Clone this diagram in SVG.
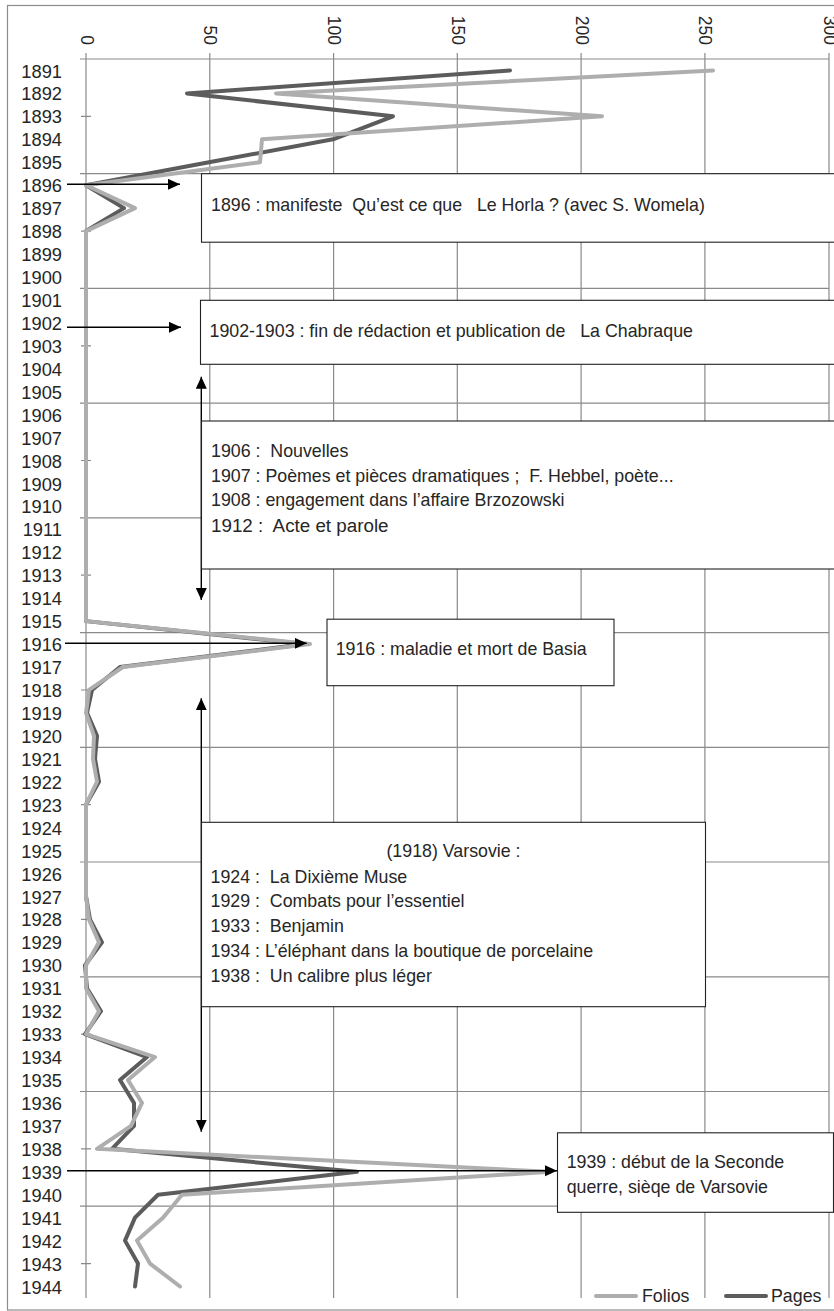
<svg xmlns="http://www.w3.org/2000/svg" width="834" height="1311" viewBox="0 0 834 1311">
<style>
text{font-family:"Liberation Sans",Arial,sans-serif;fill:#262626}
.yr{font-size:18.3px;text-anchor:end}
.ax{font-size:17.5px;text-anchor:end}
.bt{font-size:17.8px;white-space:pre}
.grid{stroke:#8a8a8a;stroke-width:1.2;fill:none}
.box{fill:#fff;stroke:#222;stroke-width:1.1}
.folios{fill:none;stroke:#aeaeae;stroke-width:4;stroke-linejoin:round;stroke-linecap:round}
.pages{fill:none;stroke:#5c5c5c;stroke-width:4;stroke-linejoin:round;stroke-linecap:round}
.arr{stroke:#000;stroke-width:1.4;fill:none}
</style>
<defs>
<marker id="ah" markerUnits="userSpaceOnUse" markerWidth="13" markerHeight="12" refX="12" refY="5.5" orient="auto-start-reverse">
<path d="M0,0 L12,5.5 L0,11 z" fill="#000"/>
</marker>
</defs>
<rect width="834" height="1311" fill="#fff"/>
<rect x="7.5" y="5.5" width="832" height="1304.5" fill="none" stroke="#8c8c8c" stroke-width="1.2"/>

<g id="chart">
<g class="grid">
<path d="M86,59V1298M209.8,53V1298M333.6,53V1298M457.3,53V1298M581.1,53V1298M704.9,53V1298M829,53V1298"/>
<path d="M80,59H829M80,173.7H829M80,288.4H829M80,403.2H829M80,517.9H829M80,632.6H829M80,747.3H829M80,862H829M80,976.8H829M80,1091.5H829M80,1206.2H829"/>
<path d="M86,53V59"/>
<path d="M81,116.4H91M81,231.1H91M81,345.8H91M81,460.5H91M81,575.2H91M81,690H91M81,804.7H91M81,919.4H91M81,1034.1H91M81,1148.8H91M81,1263.6H91"/>
</g>
<g id="value-axis">
<text class="ax" transform="translate(80.5,45) rotate(90)">0</text>
<text class="ax" transform="translate(204.3,45) rotate(90)">50</text>
<text class="ax" transform="translate(328.1,45) rotate(90)">100</text>
<text class="ax" transform="translate(451.8,45) rotate(90)">150</text>
<text class="ax" transform="translate(575.6,45) rotate(90)">200</text>
<text class="ax" transform="translate(699.4,45) rotate(90)">250</text>
<text class="ax" transform="translate(823.5,45) rotate(90)">300</text>
</g>
<g id="year-axis">
<text class="yr" x="62" y="77.5">1891</text>
<text class="yr" x="62" y="100.4">1892</text>
<text class="yr" x="62" y="123.4">1893</text>
<text class="yr" x="62" y="146.3">1894</text>
<text class="yr" x="62" y="169.2">1895</text>
<text class="yr" x="62" y="192.2">1896</text>
<text class="yr" x="62" y="215.1">1897</text>
<text class="yr" x="62" y="238.1">1898</text>
<text class="yr" x="62" y="261">1899</text>
<text class="yr" x="62" y="284">1900</text>
<text class="yr" x="62" y="306.9">1901</text>
<text class="yr" x="62" y="329.9">1902</text>
<text class="yr" x="62" y="352.8">1903</text>
<text class="yr" x="62" y="375.7">1904</text>
<text class="yr" x="62" y="398.7">1905</text>
<text class="yr" x="62" y="421.6">1906</text>
<text class="yr" x="62" y="444.6">1907</text>
<text class="yr" x="62" y="467.5">1908</text>
<text class="yr" x="62" y="490.5">1909</text>
<text class="yr" x="62" y="513.4">1910</text>
<text class="yr" x="62" y="536.4">1911</text>
<text class="yr" x="62" y="559.3">1912</text>
<text class="yr" x="62" y="582.2">1913</text>
<text class="yr" x="62" y="605.2">1914</text>
<text class="yr" x="62" y="628.1">1915</text>
<text class="yr" x="62" y="651.1">1916</text>
<text class="yr" x="62" y="674">1917</text>
<text class="yr" x="62" y="697">1918</text>
<text class="yr" x="62" y="719.9">1919</text>
<text class="yr" x="62" y="742.8">1920</text>
<text class="yr" x="62" y="765.8">1921</text>
<text class="yr" x="62" y="788.7">1922</text>
<text class="yr" x="62" y="811.7">1923</text>
<text class="yr" x="62" y="834.6">1924</text>
<text class="yr" x="62" y="857.6">1925</text>
<text class="yr" x="62" y="880.5">1926</text>
<text class="yr" x="62" y="903.5">1927</text>
<text class="yr" x="62" y="926.4">1928</text>
<text class="yr" x="62" y="949.3">1929</text>
<text class="yr" x="62" y="972.3">1930</text>
<text class="yr" x="62" y="995.2">1931</text>
<text class="yr" x="62" y="1018.2">1932</text>
<text class="yr" x="62" y="1041.1">1933</text>
<text class="yr" x="62" y="1064.1">1934</text>
<text class="yr" x="62" y="1087">1935</text>
<text class="yr" x="62" y="1110">1936</text>
<text class="yr" x="62" y="1132.9">1937</text>
<text class="yr" x="62" y="1155.8">1938</text>
<text class="yr" x="62" y="1178.8">1939</text>
<text class="yr" x="62" y="1201.7">1940</text>
<text class="yr" x="62" y="1224.7">1941</text>
<text class="yr" x="62" y="1247.6">1942</text>
<text class="yr" x="62" y="1270.6">1943</text>
<text class="yr" x="62" y="1293.5">1944</text>
</g>
<g id="series">
<polyline class="pages" points="510,70.47 187,93.42 393,116.36 333,139.3 209,162.25 86,185.19 124,208.14 86,231.08 86,621.13 305,644.07 120,667.02 92,689.96 87,712.9 97,735.85 95,758.79 99,781.74 86,804.68 86,896.46 90,919.4 102,942.34 85,965.29 87,988.23 101,1011.18 85,1034.12 147,1057.06 120,1080.01 134,1102.95 134,1125.9 112,1148.84 357,1171.78 158,1194.73 135,1217.67 125,1240.62 138,1263.56 135,1286.5"/>
<polyline class="folios" points="713,70.47 276,93.42 602,116.36 262,139.3 260,162.25 86,185.19 135,208.14 86,231.08 86,621.13 310,644.07 123,667.02 89,689.96 86,712.9 94,735.85 93,758.79 97,781.74 86,804.68 86,896.46 89,919.4 99,942.34 86,965.29 86,988.23 99,1011.18 86,1034.12 155,1057.06 128,1080.01 142,1102.95 131,1125.9 97,1148.84 550,1171.78 182,1194.73 163,1217.67 137,1240.62 150,1263.56 180,1286.5"/>
</g>
<g id="legend">
<line x1="596" y1="1296" x2="636" y2="1296" stroke="#aeaeae" stroke-width="4" stroke-linecap="round"/>
<text class="bt" x="642" y="1302">Folios</text>
<line x1="726" y1="1296" x2="766" y2="1296" stroke="#5c5c5c" stroke-width="4" stroke-linecap="round"/>
<text class="bt" x="771" y="1302">Pages</text>
</g>
</g>

<g id="connectors">
<line class="arr" x1="67" y1="184.3" x2="180" y2="184.3" marker-end="url(#ah)"/>
<line class="arr" x1="67" y1="327.3" x2="181" y2="327.3" marker-end="url(#ah)"/>
<line class="arr" x1="201.3" y1="376.7" x2="201.3" y2="600" marker-start="url(#ah)" marker-end="url(#ah)"/>
<line class="arr" x1="65" y1="643.3" x2="306.7" y2="643.3" marker-end="url(#ah)"/>
<line class="arr" x1="201.3" y1="698.3" x2="201.3" y2="1131.7" marker-start="url(#ah)" marker-end="url(#ah)"/>
<line class="arr" x1="67" y1="1170.7" x2="557" y2="1170.7" marker-end="url(#ah)"/>
</g>

<g id="box-1896">
<rect class="box" x="201.5" y="173.7" width="634" height="68.5"/>
<text class="bt" x="211" y="210.7">1896 : manifeste  Qu’est ce que   Le Horla ? (avec S. Womela)</text>
</g>
<g id="box-1902">
<rect class="box" x="200.5" y="300.3" width="635" height="64"/>
<text class="bt" x="209.5" y="336.5">1902-1903 : fin de rédaction et publication de   La Chabraque</text>
</g>
<g id="box-1906">
<rect class="box" x="201.5" y="421" width="634" height="148"/>
<text class="bt" x="211" y="456.7">1906 :  Nouvelles</text>
<text class="bt" x="211" y="481.7">1907 : Poèmes et pièces dramatiques ;  F. Hebbel, poète...</text>
<text class="bt" x="211" y="506.3">1908 : engagement dans l’affaire Brzozowski</text>
<text class="bt" x="211" y="531.7" style="font-size:18.8px">1912 :  Acte et parole</text>
</g>
<g id="box-1916">
<rect class="box" x="327" y="619.2" width="287" height="66.5"/>
<text class="bt" x="335.7" y="655">1916 : maladie et mort de Basia</text>
</g>
<g id="box-1918">
<rect class="box" x="201.5" y="822.3" width="504" height="184.4"/>
<text class="bt" x="453.5" y="856.7" style="text-anchor:middle">(1918) Varsovie :</text>
<text class="bt" x="210.5" y="882.7">1924 :  La Dixième Muse</text>
<text class="bt" x="210.5" y="907.3">1929 :  Combats pour l’essentiel</text>
<text class="bt" x="210.5" y="932.3">1933 :  Benjamin</text>
<text class="bt" x="210.5" y="956.7">1934 : L’éléphant dans la boutique de porcelaine</text>
<text class="bt" x="210.5" y="981.7">1938 :  Un calibre plus léger</text>
</g>
<g id="box-1939">
<rect class="box" x="557.5" y="1132.8" width="276" height="79.5"/>
<text class="bt" x="566.7" y="1168.3">1939 : début de la Seconde</text>
<text class="bt" x="566.7" y="1193.3">querre, sièqe de Varsovie</text>
</g>
</svg>
